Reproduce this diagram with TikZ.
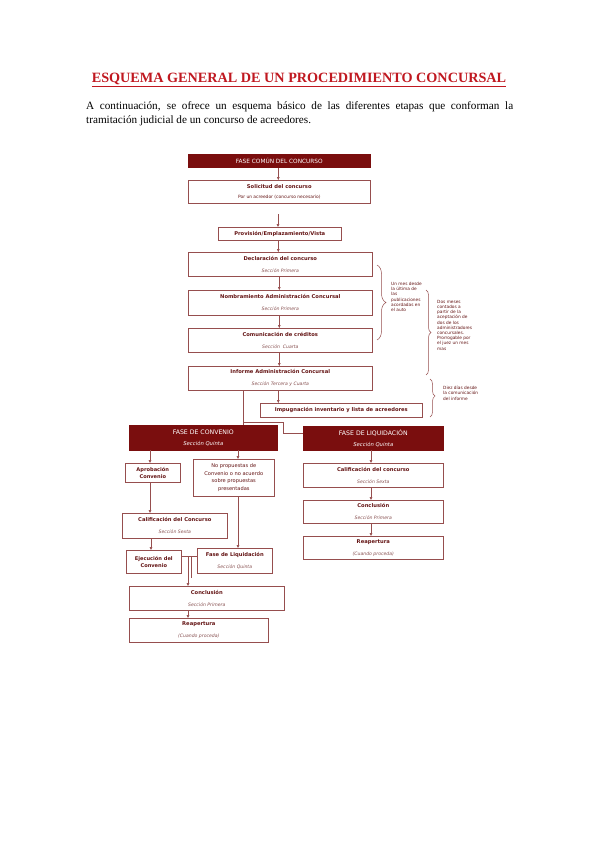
\documentclass[tikz,border=0pt]{standalone}
\usepackage{fontspec}
\setmainfont{Liberation Serif}
\newfontfamily\boxfont{DejaVu Sans}
\usetikzlibrary{arrows.meta,decorations.pathreplacing}
\definecolor{darkred}{RGB}{122,14,14}
\definecolor{bord}{RGB}{150,78,78}
\definecolor{btext}{RGB}{100,20,20}
\definecolor{itext}{RGB}{135,80,80}
\definecolor{titler}{RGB}{192,24,32}
\newcommand\isub[1]{{\fontsize{4.6}{6}\selectfont\itshape\color{itext}#1}}
\newcommand\wsub[1]{{\fontsize{5.3}{6}\selectfont\itshape #1}}
\begin{document}
\begin{tikzpicture}[x=1pt,y=-1pt,
  bx/.style={draw=bord, line width=0.6pt, fill=white, anchor=north west,
    inner sep=0pt, align=center, text=btext,
    font=\boxfont\fontsize{5.2}{6}\selectfont},
  nbx/.style={bx, font=\boxfont\fontsize{5.1}{7.5}\selectfont},
  fx/.style={draw=darkred, line width=0.6pt, fill=darkred, anchor=north west,
    inner sep=0pt, align=center, text=white,
    font=\boxfont\fontsize{6.2}{6}\selectfont},
  arr/.style={draw=bord, line width=0.6pt, -{Triangle[length=3pt,width=2.6pt]}},
  ln/.style={draw=bord, line width=0.6pt},
  brc/.style={draw=bord, line width=0.5pt, decorate},
  note/.style={anchor=north west, inner sep=0pt, align=left, text=btext,
    font=\boxfont\fontsize{4.3}{5.2}\selectfont}
]
\useasboundingbox[fill=white] (0,0) rectangle (599,848);

% title and intro
\node[text=titler, font=\fontsize{14.2}{16}\selectfont\bfseries, inner sep=0pt] (title) at (299,80)
  {\underline{ESQUEMA GENERAL DE UN PROCEDIMIENTO CONCURSAL}};
\node[anchor=north west, inner sep=0pt, text width=427pt, align=justify,
  font=\fontsize{11.2}{14}\selectfont] (intro) at (86,101)
  {A continuación, se ofrece un esquema básico de las diferentes etapas que conforman la tramitación judicial de un concurso de acreedores.};

% common phase
\node[fx, minimum width=182pt, minimum height=13pt, font=\boxfont\fontsize{5.8}{6}\selectfont] (fc) at (188,154) {FASE COMÚN DEL CONCURSO};
\node[bx, minimum width=182pt, minimum height=23pt] (sol) at (188,180)
  {\textbf{Solicitud del concurso}\\[4.7pt]{\fontsize{4.4}{6}\selectfont Por un acreedor (concurso necesario)}};
\node[bx, minimum width=123pt, minimum height=13pt] (prov) at (218,227)
  {\textbf{Provisión/Emplazamiento/Vista}};
\node[bx, minimum width=184pt, minimum height=24pt] (decl) at (188,252)
  {\textbf{Declaración del concurso}\\[6.5pt]\isub{Sección Primera}};
\node[bx, minimum width=184pt, minimum height=25pt] (nomb) at (188,290)
  {\textbf{Nombramiento Administración Concursal}\\[5.7pt]\isub{Sección Primera}};
\node[bx, minimum width=184pt, minimum height=24pt] (comu) at (188,328)
  {\textbf{Comunicación de créditos}\\[6pt]\isub{Sección\ \ Cuarta}};
\node[bx, minimum width=184pt, minimum height=24pt] (inf) at (188,366)
  {\textbf{Informe Administración Concursal}\\[6pt]\isub{Sección Tercera y Cuarta}};
\node[bx, minimum width=162pt, minimum height=14pt] (imp) at (260,403)
  {\textbf{Impugnación inventario y lista de acreedores}};

% phases
\node[fx, minimum width=148pt, minimum height=25pt] (fconv) at (129,425)
  {FASE DE CONVENIO\\[5pt]\wsub{Sección Quinta}};
\node[fx, minimum width=140pt, minimum height=24pt] (fliq) at (303,426)
  {FASE DE LIQUIDACIÓN\\[5pt]\wsub{Sección Quinta}};

% convenio branch
\node[nbx, minimum width=55pt, minimum height=19pt] (aprob) at (125,463)
  {\textbf{Aprobación}\\\textbf{Convenio}};
\node[nbx, minimum width=81pt, minimum height=37pt] (nopro) at (193,459)
  {No propuestas de\\Convenio o no acuerdo\\sobre propuestas\\presentadas};
\node[bx, minimum width=105pt, minimum height=25pt] (cal1) at (122,513)
  {\textbf{Calificación del Concurso}\\[6pt]\isub{Sección Sexta}};
\node[nbx, minimum width=55pt, minimum height=23pt] (ejec) at (126,550)
  {\textbf{Ejecución del}\\\textbf{Convenio}};
\node[bx, minimum width=75pt, minimum height=25pt] (fl2) at (197,548)
  {\textbf{Fase de Liquidación}\\[6pt]\isub{Sección Quinta}};
\node[bx, minimum width=155pt, minimum height=24pt] (con1) at (129,586)
  {\textbf{Conclusión}\\[6pt]\isub{Sección Primera}};
\node[bx, minimum width=139pt, minimum height=24pt] (rea1) at (129,618)
  {\textbf{Reapertura}\\[6pt]\isub{(Cuando proceda)}};

% liquidation branch
\node[bx, minimum width=140pt, minimum height=24pt] (cal2) at (303,463)
  {\textbf{Calificación del concurso}\\[6pt]\isub{Sección Sexta}};
\node[bx, minimum width=140pt, minimum height=23pt] (con2) at (303,500)
  {\textbf{Conclusión}\\[6pt]\isub{Sección Primera}};
\node[bx, minimum width=140pt, minimum height=23pt] (rea2) at (303,536)
  {\textbf{Reapertura}\\[6pt]\isub{(Cuando proceda)}};

% connectors common phase
\draw[arr] ([xshift=-1pt]fc.south) -- ([xshift=-1pt]fc.south |- sol.north);
\coordinate (gap) at (278,214);
\draw[arr] (gap) -- (gap |- prov.north);
\draw[arr] ([xshift=-1.5pt]prov.south) -- ([xshift=-1.5pt]prov.south |- decl.north);
\draw[arr] ([xshift=-1pt]decl.south) -- ([xshift=-1pt]decl.south |- nomb.north);
\draw[arr] ([xshift=-1pt]nomb.south) -- ([xshift=-1pt]nomb.south |- comu.north);
\draw[arr] ([xshift=-1pt]comu.south) -- ([xshift=-1pt]comu.south |- inf.north);
\draw[arr] ([xshift=-2pt]inf.south) -- ([xshift=-2pt]inf.south |- imp.north);
\coordinate (c1) at ([xshift=55pt]inf.south west);
\draw[ln] (c1) -- (c1 |- fconv.north);
\coordinate (j1) at (243,422);
\coordinate (j2) at (283,433);
\draw[ln] (j1) -| (j2) -- (j2 -| fliq.west);

% connectors convenio
\coordinate (a1) at (150,450);
\draw[arr] (a1) -- (a1 |- aprob.north);
\coordinate (a2) at (238,450);
\draw[arr] (a2) -- (a2 |- nopro.north);
\draw[arr] (a1 |- aprob.south) -- (a1 |- cal1.north);
\draw[arr] (a2 |- nopro.south) -- (a2 |- fl2.north);
\coordinate (a3) at (151,538);
\draw[arr] (a3) -- (a3 |- ejec.north);
\coordinate (e1) at (181,556);
\draw[ln] (e1) -- (e1 -| fl2.west);
\coordinate (e2) at (188,556);
\draw[arr] (e2) -- (e2 |- con1.north);
\coordinate (e3) at (191.5,556);
\coordinate (e3b) at (191.5,578);
\draw[ln] (e3) -- (e3b);
\coordinate (e4) at (188,610);
\draw[arr] (e4) -- (e4 |- rea1.north);

% connectors liquidacion
\coordinate (l1) at (371,450);
\draw[arr] (l1) -- (l1 |- cal2.north);
\draw[arr] (l1 |- cal2.south) -- (l1 |- con2.north);
\draw[arr] (l1 |- con2.south) -- (l1 |- rea2.north);

% braces
\draw[brc, decoration={brace, amplitude=9pt, aspect=0.5}] (377,265) -- (377,340);
\draw[brc, decoration={brace, amplitude=5pt, aspect=0.5}] (426,290) -- (426,375);
\draw[brc, decoration={brace, amplitude=5pt, aspect=0.45}] (430,379) -- (430,417);

\node[note] (n1) at (391,282) {Un mes desde\\la última de\\las\\publicaciones\\acordadas en\\el auto};
\node[note] (n2) at (437,300) {Dos meses\\contados a\\partir de la\\aceptación de\\dos de los\\administradores\\concursales.\\Prorrogable por\\el juez un mes\\mas};
\node[note] (n3) at (443,386) {Diez días desde\\la comunicación\\del informe};
\end{tikzpicture}
\end{document}
